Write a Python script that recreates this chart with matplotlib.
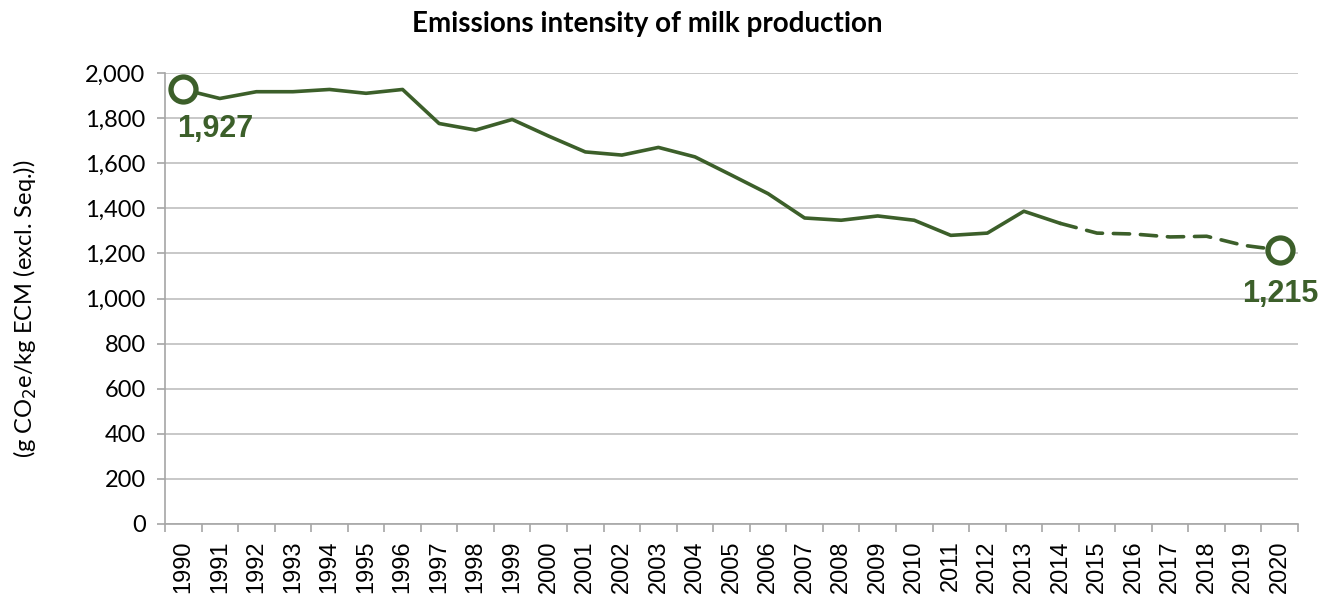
import matplotlib.pyplot as plt
import matplotlib
import numpy as np

years = list(range(1990, 2021))
# emissions intensity, g CO2e / kg ECM (excl. Seq.)
intensity = [1927, 1887, 1917, 1917, 1927, 1910, 1927, 1776, 1747, 1794,
             1720, 1650, 1636, 1670, 1628, 1547, 1465, 1357, 1347, 1366,
             1347, 1280, 1290, 1387, 1333, 1290, 1286, 1273, 1276, 1236,
             1215]
last_solid = 2014  # dashed line from here on

green = '#3C5F2A'
grid = '#BFBFBF'

fig = plt.figure(figsize=(13.19, 5.94), dpi=100)
ax = fig.add_axes([165/1319, 1-524/594, (1298-165)/1319, (524-73)/594])

x = np.arange(len(years))
k = years.index(last_solid)
ax.plot(x[:k+1], intensity[:k+1], color=green, lw=2.6, solid_capstyle='round', zorder=3)
ax.plot(x[k:], intensity[k:], color=green, lw=2.6, ls=(0, (4.5, 3)), dash_capstyle='round', zorder=3)

for i in (0, len(years)-1):
    ax.plot(x[i], intensity[i], 'o', ms=18, mfc='white', mec=green, mew=3.8, zorder=4)

ax.annotate(f'{intensity[0]:,}', (x[0], intensity[0]), xytext=(32, -40),
            textcoords='offset pixels', ha='center', va='center',
            fontsize=22, fontweight='bold', color=green, family='Liberation Sans')
ax.annotate(f'{intensity[-1]:,}', (x[-1], intensity[-1]), xytext=(1, -44),
            textcoords='offset pixels', ha='center', va='center',
            fontsize=22, fontweight='bold', color=green, family='Liberation Sans')

ax.set_xlim(-0.5, len(years)-0.5)
ax.set_ylim(0, 2000)
ax.set_yticks(range(0, 2001, 200))
ax.set_yticklabels([f'{v:,}' for v in range(0, 2001, 200)], fontsize=17, family='Lato')
ax.yaxis.grid(True, color=grid, lw=1.2)
ax.set_axisbelow(True)

ax.set_xticks(np.arange(-0.5, len(years)), minor=False)
ax.set_xticklabels([])
ax.set_xticks(x, minor=True)
ax.set_xticklabels([str(y) for y in years], minor=True, rotation=90,
                   fontsize=17, family='Liberation Sans')
ax.tick_params(axis='x', which='major', length=6, color='#A6A6A6', width=1.2)
ax.tick_params(axis='x', which='minor', length=0, pad=12)
ax.tick_params(axis='y', length=6, color='#A6A6A6', width=1.2, pad=8)

for s in ('top', 'right'):
    ax.spines[s].set_visible(False)
for s in ('left', 'bottom'):
    ax.spines[s].set_color('#A6A6A6')
    ax.spines[s].set_linewidth(1.2)

fig.text(25/1319, 1-309/594, '(g CO$_2$e/kg ECM (excl. Seq.))', rotation=90,
         ha='center', va='center', fontsize=17, family='Lato')
fig.text(647/1319, 1-24/594, 'Emissions intensity of milk production', ha='center', va='center',
         fontsize=20, fontweight='bold', family='Lato')

fig.savefig('out.png', dpi=100)
